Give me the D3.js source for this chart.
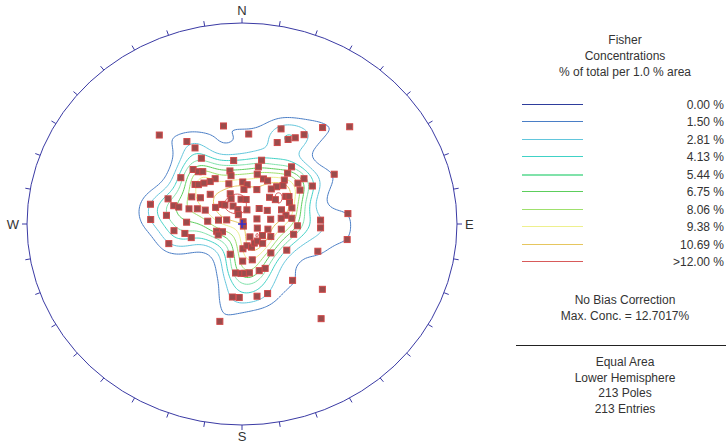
<!DOCTYPE html>
<html>
<head>
<meta charset="utf-8">
<script src="https://cdn.jsdelivr.net/npm/d3@7"></script>
<style>
  body { margin: 0; background: #fff; }
  svg { display: block; font-family: "Liberation Sans", Arial, sans-serif; }
</style>
</head>
<body>
<div id="chart"></div>
<script>
// pole orientations (trend / plunge, degrees)
var trends = [319,350,4,21,38,46,328,22,27,30,
  33,330,330,353,16,15,39,320,322,325,
  348,348,16,40,60,24,29,309,331,312,
  314,319,325,343,1,7,3,42,45,52,
  52,60,41,38,58,22,340,315,300,304,
  358,9,338,44,52,56,58,316,320,283,
  290,286,277,286,287,290,292,304,335,345,
  340,18,46,60,69,64,71,78,83,81,
  80,70,84,87,93,273,272,275,280,286,
  25,148,106,102,98,92,253,247,244,254,
  260,264,254,121,115,150,102,178,168,159,
  149,140,135,137,122,111,200,179,165,187,
  181,177,172,161,154,140,131,187,182,169,
  161,192,99,142];
var plunges = [41,49,53,48,39,31,50,54,51,49,
  46,54,59,64,63,66,60,61,63,64,
  68,70,69,63,49,70,70,60,69,66,
  67,68,69,73,73,74,76,66,68,63,
  60,59,70,72,64,75,77,73,68,71,
  80,80,79,75,74,70,69,79,80,54,
  60,63,61,65,69,72,75,78,82,84,
  86,84,81,79,74,70,70,73,71,75,
  79,84,49,60,60,55,69,77,81,84,
  89,89,84,80,75,69,80,82,80,70,
  68,64,61,81,78,84,70,80,81,80,
  81,81,79,74,70,59,77,75,75,70,
  70,70,70,70,70,60,49,60,60,60,
  60,49,49,40];

var levels = [0, 1.50, 2.81, 4.13, 5.44, 6.75, 8.06, 9.38, 10.69, 12.00];
var levelLabels = ['0.00 %', '1.50 %', '2.81 %', '4.13 %', '5.44 %', '6.75 %', '8.06 %', '9.38 %', '10.69 %', '>12.00 %'];
var levelColors = ['#2e3d9c', '#4a7ec6', '#62c6dc', '#40d2c6', '#80e2aa', '#5cce5c', '#9ee06c', '#eef08e', '#e6c65e', '#d85a5a'];
var maxConc = 12.7017;
var titleLines = ['Fisher', 'Concentrations', '% of total per 1.0 % area'];
var infoLines = ['No Bias Correction', 'Max. Conc. = ' + maxConc + '%'];
var netLines = ['Equal Area', 'Lower Hemisphere', '213 Poles', '213 Entries'];

var W = 726, H = 443;
var kappa = 120, grid = 240;
var textColor = '#333';

var svg = d3.select('#chart').append('svg')
  .attr('width', W).attr('height', H);

// net coordinates (-1..1) to pixels
var x = d3.scaleLinear().domain([-1, 1]).range([27, 457]);
var y = d3.scaleLinear().domain([-1, 1]).range([425, 23]);
var rad = Math.PI / 180;

function project(t, p) {
  var r = Math.SQRT2 * Math.sin((90 - p) * rad / 2);
  return [r * Math.sin(t * rad), r * Math.cos(t * rad)];
}

var poles = trends.map(function(t, i) {
  var p = plunges[i];
  return {
    xy: project(t, p),
    v: [Math.cos(p * rad) * Math.sin(t * rad), Math.cos(p * rad) * Math.cos(t * rad), Math.sin(p * rad)]
  };
});

// fisher density on the lower hemisphere
var values = new Float64Array(grid * grid);
var rawMax = 0;
for (var j = 0; j < grid; j++) {
  var Y = 1 - 2 * (j + 0.5) / grid;
  for (var i = 0; i < grid; i++) {
    var X = -1 + 2 * (i + 0.5) / grid;
    var r = Math.sqrt(X * X + Y * Y);
    if (r > 1) { values[j * grid + i] = -1; continue; }
    var th = 2 * Math.asin(r / Math.SQRT2), tr = Math.atan2(X, Y);
    var d = [Math.sin(th) * Math.sin(tr), Math.sin(th) * Math.cos(tr), Math.cos(th)];
    var s = 0;
    poles.forEach(function(p) {
      var c = Math.abs(d[0] * p.v[0] + d[1] * p.v[1] + d[2] * p.v[2]);
      s += Math.exp(kappa * (c - 1));
    });
    values[j * grid + i] = s;
    if (s > rawMax) rawMax = s;
  }
}
// scale so the peak reads as the reported max concentration
for (var k = 0; k < values.length; k++) {
  if (values[k] >= 0) values[k] = values[k] / rawMax * maxConc;
}

var contours = d3.contours().size([grid, grid]).thresholds(levels.slice(1))(values);
var toNet = d3.geoTransform({
  point: function(px, py) {
    this.stream.point(x(-1 + 2 * px / grid), y(1 - 2 * py / grid));
  }
});
var path = d3.geoPath(toNet);

svg.append('g').selectAll('path')
  .data(contours)
  .enter().append('path')
  .attr('d', path)
  .attr('fill', 'none')
  .attr('stroke', function(d) { return levelColors[levels.indexOf(d.value)]; })
  .attr('stroke-width', 1);

// primitive circle and ticks
var cx = x(0), cy = y(0);
svg.append('ellipse')
  .attr('cx', cx).attr('cy', cy)
  .attr('rx', x(1) - cx).attr('ry', y(-1) - cy)
  .attr('fill', 'none').attr('stroke', '#3a3aa4').attr('stroke-width', 1);

svg.append('g').selectAll('line')
  .data(d3.range(0, 360, 10))
  .enter().append('line')
  .attr('x1', function(a) { return x(Math.sin(a * rad)); })
  .attr('y1', function(a) { return y(Math.cos(a * rad)); })
  .attr('x2', function(a) { return x(Math.sin(a * rad)) + 5 * Math.sin(a * rad); })
  .attr('y2', function(a) { return y(Math.cos(a * rad)) - 5 * Math.cos(a * rad); })
  .attr('stroke', '#3a3aa4').attr('stroke-width', 1);

var compass = [
  { t: 'N', x: cx, y: y(1) - 8, a: 'middle' },
  { t: 'S', x: cx, y: y(-1) + 16, a: 'middle' },
  { t: 'W', x: x(-1) - 8, y: cy + 5, a: 'end' },
  { t: 'E', x: x(1) + 8, y: cy + 5, a: 'start' }
];
svg.append('g').selectAll('text')
  .data(compass)
  .enter().append('text')
  .attr('x', function(d) { return d.x; })
  .attr('y', function(d) { return d.y; })
  .attr('text-anchor', function(d) { return d.a; })
  .attr('font-size', 13).attr('fill', textColor)
  .text(function(d) { return d.t; });

// poles
svg.append('g').selectAll('rect')
  .data(poles)
  .enter().append('rect')
  .attr('x', function(d) { return x(d.xy[0]) - 3; })
  .attr('y', function(d) { return y(d.xy[1]) - 3; })
  .attr('width', 6).attr('height', 6)
  .attr('fill', '#9a4c4c').attr('stroke', '#d04848').attr('stroke-width', 1);

// centre cross
svg.append('path')
  .attr('d', 'M' + (cx - 4) + ',' + cy + 'H' + (cx + 4) + 'M' + cx + ',' + (cy - 4) + 'V' + (cy + 4))
  .attr('stroke', '#3030d0').attr('stroke-width', 1.5);

// legend
var lg = svg.append('g').attr('font-size', 12).attr('fill', textColor);
lg.selectAll('text.title')
  .data(titleLines)
  .enter().append('text')
  .attr('class', 'title')
  .attr('x', 625).attr('y', function(d, i) { return 44 + i * 16; })
  .attr('text-anchor', 'middle')
  .text(function(d) { return d; });

var ly = d3.scaleLinear().domain([0, levels.length - 1]).range([104, 261]);
var rows = levels.map(function(v, i) {
  return { label: levelLabels[i], color: levelColors[i], pos: Math.round(ly(i)), h: i === 4 ? 2 : 1 };
});
lg.selectAll('rect.key')
  .data(rows)
  .enter().append('rect')
  .attr('class', 'key')
  .attr('x', 522).attr('width', 61)
  .attr('y', function(d) { return d.pos; })
  .attr('height', function(d) { return d.h; })
  .style('fill', function(d) { return d.color; });
lg.selectAll('text.lvl')
  .data(rows)
  .enter().append('text')
  .attr('class', 'lvl')
  .attr('x', 724).attr('y', function(d) { return d.pos + 4.5; })
  .attr('text-anchor', 'end')
  .text(function(d) { return d.label; });

lg.selectAll('text.info')
  .data(infoLines)
  .enter().append('text')
  .attr('class', 'info')
  .attr('x', 625).attr('y', function(d, i) { return 304 + i * 16; })
  .attr('text-anchor', 'middle')
  .text(function(d) { return d; });

lg.append('rect')
  .attr('x', 516).attr('width', 210).attr('y', 345).attr('height', 1)
  .style('fill', '#222');

lg.selectAll('text.net')
  .data(netLines)
  .enter().append('text')
  .attr('class', 'net')
  .attr('x', 625).attr('y', function(d, i) { return 366 + i * 15.7; })
  .attr('text-anchor', 'middle')
  .text(function(d) { return d; });
</script>
</body>
</html>
